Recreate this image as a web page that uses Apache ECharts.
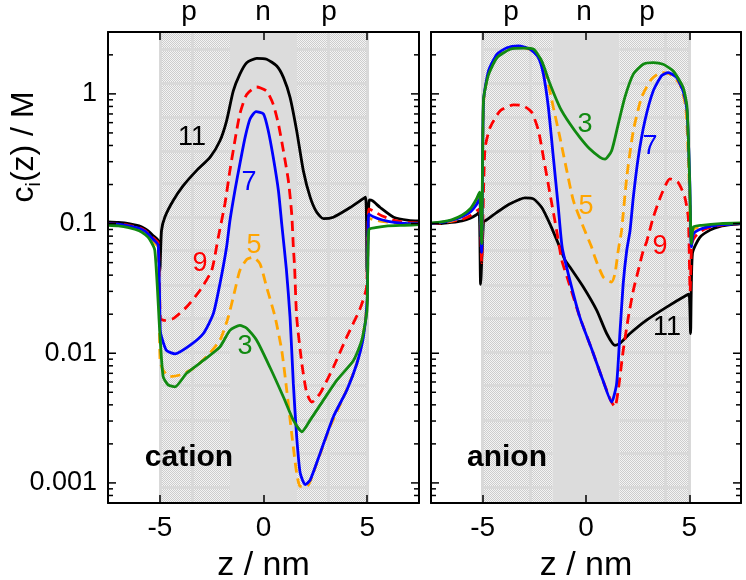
<!DOCTYPE html>
<html>
<head>
<meta charset="utf-8">
<script src="https://cdn.jsdelivr.net/npm/echarts@6/dist/echarts.min.js"></script>
<style>
  html, body { margin: 0; padding: 0; background: #fff; }
  #chart { width: 746px; height: 580px; }
</style>
</head>
<body>
<div id="chart"></div>
<script>
// concentration profiles c_i(z) in M, pairs of [z (nm), c]
const cation11 = [[-7.5,0.103],[-7,0.102],[-6.5,0.1],[-6,0.096],[-5.7,0.091],[-5.5,0.086],[-5.3,0.08],[-5.08,0.074],[-5.0,0.043],[-4.92,0.088],[-4.76,0.112],[-4.36,0.15],[-3.87,0.196],[-3.23,0.256],[-2.58,0.324],[-2.1,0.435],[-1.78,0.62],[-1.46,1.05],[-1.14,1.42],[-0.81,1.74],[-0.33,1.88],[0.15,1.85],[0.64,1.64],[0.96,1.34],[1.28,0.94],[1.6,0.52],[1.92,0.256],[2.25,0.16],[2.57,0.122],[2.89,0.109],[3.37,0.112],[4.18,0.133],[4.92,0.16],[4.99,0.042],[5.1,0.152],[5.25,0.15],[5.63,0.133],[6.28,0.112],[7.0,0.106],[7.5,0.105]]
const cation9 = [[-7.5,0.1],[-7,0.099],[-6.5,0.097],[-6,0.093],[-5.7,0.088],[-5.5,0.083],[-5.3,0.077],[-5.08,0.071],[-4.97,0.0185],[-4.76,0.0179],[-4.36,0.0185],[-3.71,0.0227],[-3.07,0.0305],[-2.5,0.0435],[-2.18,0.0785],[-1.86,0.142],[-1.62,0.256],[-1.38,0.435],[-1.14,0.7],[-0.81,0.99],[-0.33,1.13],[0.15,1.05],[0.47,0.83],[0.72,0.585],[0.96,0.364],[1.2,0.214],[1.36,0.119],[1.44,0.0657],[1.5,0.046],[1.6,0.019],[1.85,0.0083],[2.09,0.0049],[2.33,0.0042],[2.73,0.0049],[3.37,0.0078],[4.02,0.0134],[4.66,0.0221],[4.97,0.0324],[5.08,0.13],[5.3,0.125],[5.7,0.115],[6.3,0.106],[7,0.102],[7.5,0.101]]
const cation7 = [[-7.5,0.1],[-7,0.099],[-6.5,0.096],[-6,0.092],[-5.7,0.087],[-5.5,0.081],[-5.3,0.075],[-5.08,0.068],[-4.98,0.015],[-4.92,0.0134],[-4.68,0.0105],[-4.27,0.0099],[-3.55,0.0115],[-2.9,0.0142],[-2.42,0.0202],[-2.1,0.0344],[-1.78,0.066],[-1.62,0.105],[-1.38,0.179],[-1.14,0.288],[-0.89,0.46],[-0.65,0.64],[-0.36,0.73],[0,0.7],[0.23,0.52],[0.47,0.324],[0.72,0.179],[0.88,0.099],[1.1,0.045],[1.28,0.019],[1.44,0.0058],[1.6,0.00227],[1.77,0.00119],[2.01,0.00097],[2.25,0.00105],[2.73,0.00169],[3.37,0.00324],[4.02,0.0052],[4.5,0.0083],[4.82,0.0134],[5.0,0.0256],[5.08,0.118],[5.3,0.113],[5.7,0.107],[6.3,0.102],[7,0.1],[7.5,0.1]]
const cation5 = [[-7.5,0.099],[-7,0.098],[-6.5,0.095],[-6,0.091],[-5.7,0.085],[-5.5,0.079],[-5.3,0.072],[-5.08,0.066],[-4.99,0.0088],[-4.84,0.0074],[-4.52,0.0066],[-4.04,0.0068],[-3.4,0.0076],[-2.75,0.0094],[-2.1,0.0126],[-1.7,0.019],[-1.38,0.0305],[-1.14,0.0435],[-0.8,0.053],[-0.5,0.055],[-0.17,0.049],[0.15,0.0324],[0.56,0.019],[0.88,0.0105],[1.12,0.0052],[1.36,0.0024],[1.6,0.00119],[1.77,0.00094],[2.09,0.00094],[2.57,0.00142],[3.21,0.0027],[3.86,0.0046],[4.5,0.0083],[4.82,0.0142],[5.0,0.0256],[5.08,0.11],[5.3,0.107],[5.7,0.104],[6.3,0.101],[7,0.1],[7.5,0.1]]
const cation3 = [[-7.5,0.097],[-7,0.096],[-6.5,0.093],[-6,0.088],[-5.7,0.082],[-5.5,0.076],[-5.24,0.062],[-5.0,0.0143],[-4.84,0.0066],[-4.6,0.0057],[-4.27,0.0055],[-3.71,0.007],[-2.9,0.0088],[-2.1,0.0112],[-1.62,0.015],[-1.14,0.0164],[-0.81,0.0156],[-0.33,0.0126],[0.31,0.0078],[0.96,0.0046],[1.44,0.00305],[1.85,0.00248],[2.25,0.00305],[2.89,0.00435],[3.54,0.0062],[4.34,0.0088],[4.74,0.0126],[4.99,0.0214],[5.08,0.09],[5.4,0.093],[6,0.096],[6.8,0.097],[7.5,0.098]]

const anion11 = [[-7.5,0.1],[-7,0.1],[-6.5,0.102],[-6,0.105],[-5.6,0.11],[-5.3,0.117],[-5.17,0.122],[-5.1,0.034],[-4.96,0.104],[-4.88,0.105],[-4.31,0.122],[-3.67,0.142],[-2.95,0.158],[-2.54,0.155],[-2.14,0.133],[-1.74,0.099],[-1.34,0.07],[-1.01,0.052],[-0.77,0.046],[-0.13,0.0324],[0.52,0.0214],[1.0,0.0142],[1.4,0.0115],[1.64,0.0119],[2.13,0.0142],[2.93,0.018],[3.9,0.0227],[4.86,0.028],[4.99,0.0285],[5.06,0.0142],[5.15,0.059],[5.5,0.078],[6,0.089],[6.5,0.095],[7,0.098],[7.5,0.1]]
const anion9 = [[-7.5,0.1],[-7,0.101],[-6.5,0.104],[-6,0.108],[-5.6,0.115],[-5.3,0.125],[-5.15,0.13],[-5.05,0.05],[-4.95,0.2],[-4.88,0.386],[-4.64,0.55],[-4.15,0.74],[-3.51,0.823],[-3.03,0.81],[-2.62,0.718],[-2.3,0.52],[-2.06,0.324],[-1.74,0.169],[-1.42,0.088],[-1.17,0.052],[-0.9,0.038],[-0.3,0.019],[0.3,0.0105],[0.8,0.0063],[1.2,0.0043],[1.4,0.00386],[1.56,0.0052],[1.8,0.0105],[2.05,0.019],[2.29,0.0305],[2.53,0.0435],[2.77,0.062],[2.93,0.072],[3.25,0.111],[3.66,0.169],[4.06,0.221],[4.46,0.207],[4.78,0.16],[4.95,0.111],[5.04,0.03],[5.12,0.07],[5.3,0.08],[5.7,0.09],[6.3,0.096],[7,0.099],[7.5,0.1]]
const anion7 = [[-7.5,0.1],[-7,0.102],[-6.5,0.106],[-6,0.113],[-5.6,0.123],[-5.3,0.14],[-5.15,0.155],[-5.05,0.06],[-4.96,0.88],[-4.72,1.5],[-4.31,2.02],[-3.83,2.27],[-3.27,2.34],[-2.7,2.21],[-2.3,1.9],[-2.06,1.42],[-1.82,0.785],[-1.58,0.324],[-1.34,0.133],[-1.15,0.065],[-0.77,0.036],[-0.3,0.019],[0.3,0.0105],[0.8,0.0063],[1.24,0.0042],[1.48,0.0058],[1.64,0.0142],[1.8,0.0344],[1.97,0.062],[2.13,0.088],[2.29,0.16],[2.53,0.324],[2.85,0.62],[3.25,1.05],[3.66,1.38],[3.98,1.46],[4.38,1.34],[4.7,1.05],[4.89,0.74],[5.02,0.214],[5.1,0.066],[5.2,0.083],[5.5,0.09],[6,0.095],[6.6,0.098],[7.5,0.1]]
const anion5 = [[-7.5,0.1],[-7,0.102],[-6.5,0.105],[-6,0.112],[-5.6,0.125],[-5.3,0.148],[-5.15,0.165],[-5.05,0.065],[-4.96,0.85],[-4.72,1.45],[-4.31,1.95],[-3.83,2.2],[-3.27,2.3],[-2.7,2.2],[-2.22,1.85],[-1.9,1.34],[-1.58,0.785],[-1.26,0.46],[-0.93,0.256],[-0.61,0.15],[-0.13,0.094],[0.27,0.066],[0.43,0.055],[0.84,0.0386],[1.24,0.0354],[1.4,0.041],[1.56,0.062],[1.72,0.088],[1.97,0.227],[2.29,0.52],[2.69,0.94],[3.17,1.3],[3.66,1.46],[4.06,1.42],[4.54,1.19],[4.83,0.785],[5.0,0.2],[5.1,0.07],[5.2,0.09],[5.6,0.095],[6.5,0.099],[7.5,0.1]]
const anion3 = [[-7.5,0.101],[-7,0.103],[-6.5,0.107],[-6,0.116],[-5.6,0.13],[-5.3,0.155],[-5.15,0.175],[-5.05,0.07],[-4.96,0.9],[-4.72,1.4],[-4.31,1.9],[-3.67,2.21],[-3.0,2.25],[-2.54,2.21],[-2.14,1.79],[-1.74,1.19],[-1.26,0.785],[-0.77,0.585],[-0.29,0.46],[0.19,0.375],[0.68,0.324],[0.92,0.314],[1.24,0.364],[1.56,0.585],[1.88,0.94],[2.29,1.42],[2.77,1.69],[3.25,1.74],[3.73,1.69],[4.22,1.5],[4.7,1.12],[4.89,0.785],[5.02,0.2],[5.1,0.07],[5.2,0.094],[5.6,0.097],[6.5,0.1],[7.5,0.101]]

const xTicks = [-5, 0, 5]
const yTicks = [0.0008,0.0009,0.001,0.002,0.003,0.004,0.005,0.006,0.007,0.008,0.009,0.01,0.02,0.03,0.04,0.05,0.06,0.07,0.08,0.09,0.1,0.2,0.3,0.4,0.5,0.6,0.7,0.8,0.9,1,2,3]
const poreEdge = 5
const nEdge = 1.62
// background mesh of the pore picture
const meshRows = [2.22,1.215,0.665,0.364,0.203,0.111,0.062,0.0334,0.0186,0.0102,0.00567,0.00305,0.0017,0.00093]
const meshCols = [[-5, -3.46, 3.14, 5], [-5, -2.7, 3.82, 5]]

const Y_MIN = 0.0007, Y_MAX = 3
const FONT = 'Liberation Sans, Arial, sans-serif'

const chart = echarts.init(document.getElementById('chart'))

// fine checker texture for the p regions
const tile = document.createElement('canvas')
tile.width = 2
tile.height = 2
const tctx = tile.getContext('2d')
tctx.fillStyle = '#f4f4f4'
tctx.fillRect(0, 0, 2, 2)
tctx.fillStyle = '#cdcdcd'
tctx.fillRect(0, 0, 1, 1)
tctx.fillRect(1, 1, 1, 1)
const checker = { image: tile, repeat: 'repeat' }

function isDecade(v) {
  const e = Math.log10(v)
  return Math.abs(e - Math.round(e)) < 1e-6
}

const grids = [
  { left: 108, top: 32, width: 311, height: 471, containLabel: false, outerBoundsMode: 'none' },
  { left: 431, top: 32, width: 310, height: 471, containLabel: false, outerBoundsMode: 'none' }
]

const xAxes = []
const yAxes = []
grids.forEach(function (g, i) {
  ['bottom', 'top'].forEach(function (pos) {
    xAxes.push({
      gridIndex: i, type: 'value', min: -7.5, max: 7.5, position: pos, z: 10,
      axisLine: { show: true, onZero: false, lineStyle: { color: '#000', width: 2 } },
      axisTick: { show: true, inside: true, length: 8, customValues: xTicks, lineStyle: { color: '#000', width: 1.5 } },
      axisLabel: { show: pos === 'bottom', customValues: xTicks, fontSize: 28, fontFamily: FONT, color: '#000', margin: 11 },
      splitLine: { show: false },
      name: pos === 'bottom' ? 'z / nm' : '',
      nameLocation: 'middle', nameGap: 46,
      nameTextStyle: { fontSize: 34, fontFamily: FONT, color: '#000' }
    })
  });
  ['left', 'right'].forEach(function (pos) {
    yAxes.push({
      gridIndex: i, type: 'log', logBase: 10, min: Y_MIN, max: Y_MAX, position: pos, z: 10,
      axisLine: { show: true, onZero: false, lineStyle: { color: '#000', width: 2 } },
      axisTick: { show: false },
      axisLabel: {
        show: i === 0 && pos === 'left', fontSize: 27, fontFamily: FONT, color: '#000', margin: 11,
        showMinLabel: false, showMaxLabel: false,
        formatter: function (v) { return isDecade(v) ? String(+v.toPrecision(1)) : '' }
      },
      splitLine: { show: false }
    })
  })
})

const series = []
grids.forEach(function (g, i) {
  const xi = i * 2, yi = i * 2
  // shaded pore regions
  series.push({
    type: 'line', xAxisIndex: xi, yAxisIndex: yi, data: [], z: 1, silent: true,
    markArea: {
      silent: true,
      data: [
        [{ xAxis: -poreEdge, itemStyle: { color: checker } }, { xAxis: -nEdge }],
        [{ xAxis: -nEdge, itemStyle: { color: '#dcdcdc' } }, { xAxis: nEdge }],
        [{ xAxis: nEdge, itemStyle: { color: checker } }, { xAxis: poreEdge }]
      ]
    }
  })
  const mesh = []
  meshCols[i].forEach(function (x) { mesh.push([{ coord: [x, Y_MIN] }, { coord: [x, Y_MAX] }]) })
  meshRows.forEach(function (y) {
    mesh.push([{ coord: [-poreEdge, y] }, { coord: [-nEdge, y] }])
    mesh.push([{ coord: [nEdge, y] }, { coord: [poreEdge, y] }])
  })
  series.push({
    type: 'line', xAxisIndex: xi, yAxisIndex: yi, data: [], z: 2, silent: true,
    markLine: {
      silent: true, symbol: ['none', 'none'], label: { show: false },
      lineStyle: { color: '#d9d9d9', width: 3, type: 'solid' },
      data: mesh
    }
  })
  // log ticks on both sides
  series.push({
    type: 'custom', xAxisIndex: xi, yAxisIndex: yi, z: 11, silent: true, clip: false,
    data: yTicks.map(function (v) { return [-7.5, v] }),
    renderItem: function (params, api) {
      const v = api.value(1)
      const l = api.coord([-7.5, v]), r = api.coord([7.5, v])
      const len = isDecade(v) ? 8 : 5
      const st = { stroke: '#000', lineWidth: 1.5 }
      return {
        type: 'group', children: [
          { type: 'line', shape: { x1: l[0], y1: l[1], x2: l[0] + len, y2: l[1] }, style: st },
          { type: 'line', shape: { x1: r[0] - len, y1: r[1], x2: r[0], y2: r[1] }, style: st }
        ]
      }
    }
  })
})

function curve(data, gi, color, dashed) {
  return {
    type: 'line', xAxisIndex: gi * 2, yAxisIndex: gi * 2, data: data, z: 5,
    showSymbol: false, symbol: 'none', smooth: 0.2,
    lineStyle: { color: color, width: 2.8, type: dashed ? [10, 6] : 'solid' }
  }
}

const BLACK = '#000000', RED = '#ff0000', BLUE = '#0000ff', ORANGE = '#ffa500', GREEN = '#118a11'
series.push(curve(cation11, 0, BLACK), curve(cation9, 0, RED, true), curve(cation5, 0, ORANGE, true),
  curve(cation7, 0, BLUE), curve(cation3, 0, GREEN))
series.push(curve(anion11, 1, BLACK), curve(anion9, 1, RED, true), curve(anion5, 1, ORANGE, true),
  curve(anion7, 1, BLUE), curve(anion3, 1, GREEN))

function txt(x, y, s, size, color, bold) {
  return {
    type: 'text', x: x, y: y, z: 20, silent: true,
    style: { text: s, fill: color, font: (bold ? 'bold ' : '') + size + 'px ' + FONT, align: 'center', verticalAlign: 'middle' }
  }
}

const graphics = [
  txt(189, 12, 'p', 28, '#000'), txt(263, 12, 'n', 28, '#000'), txt(329, 12, 'p', 28, '#000'),
  txt(511, 12, 'p', 28, '#000'), txt(584, 12, 'n', 28, '#000'), txt(647, 12, 'p', 28, '#000'),
  txt(189, 458, 'cation', 30, '#000', true), txt(507, 458, 'anion', 30, '#000', true),
  txt(192, 138, '11', 27, BLACK), txt(200, 264, '9', 27, RED), txt(249, 183, '7', 27, BLUE),
  txt(254, 246, '5', 27, ORANGE), txt(245, 347, '3', 27, GREEN),
  txt(585, 125, '3', 27, GREEN), txt(650, 147, '7', 27, BLUE), txt(586, 207, '5', 27, ORANGE),
  txt(660, 247, '9', 27, RED), txt(667, 328, '11', 27, BLACK),
  {
    type: 'text', x: 24, y: 147, rotation: Math.PI / 2, z: 20, silent: true,
    style: {
      text: '{a|c}{s|i}{a|(z) / M}', align: 'center', verticalAlign: 'middle',
      rich: {
        a: { fontSize: 32, fontFamily: FONT, fill: '#000', lineHeight: 40, verticalAlign: 'middle' },
        s: { fontSize: 20, fontFamily: FONT, fill: '#000', lineHeight: 20, verticalAlign: 'bottom' }
      }
    }
  }
]

chart.setOption({
  animation: false,
  backgroundColor: '#fff',
  grid: grids,
  xAxis: xAxes,
  yAxis: yAxes,
  series: series,
  graphic: graphics
})
</script>
</body>
</html>
